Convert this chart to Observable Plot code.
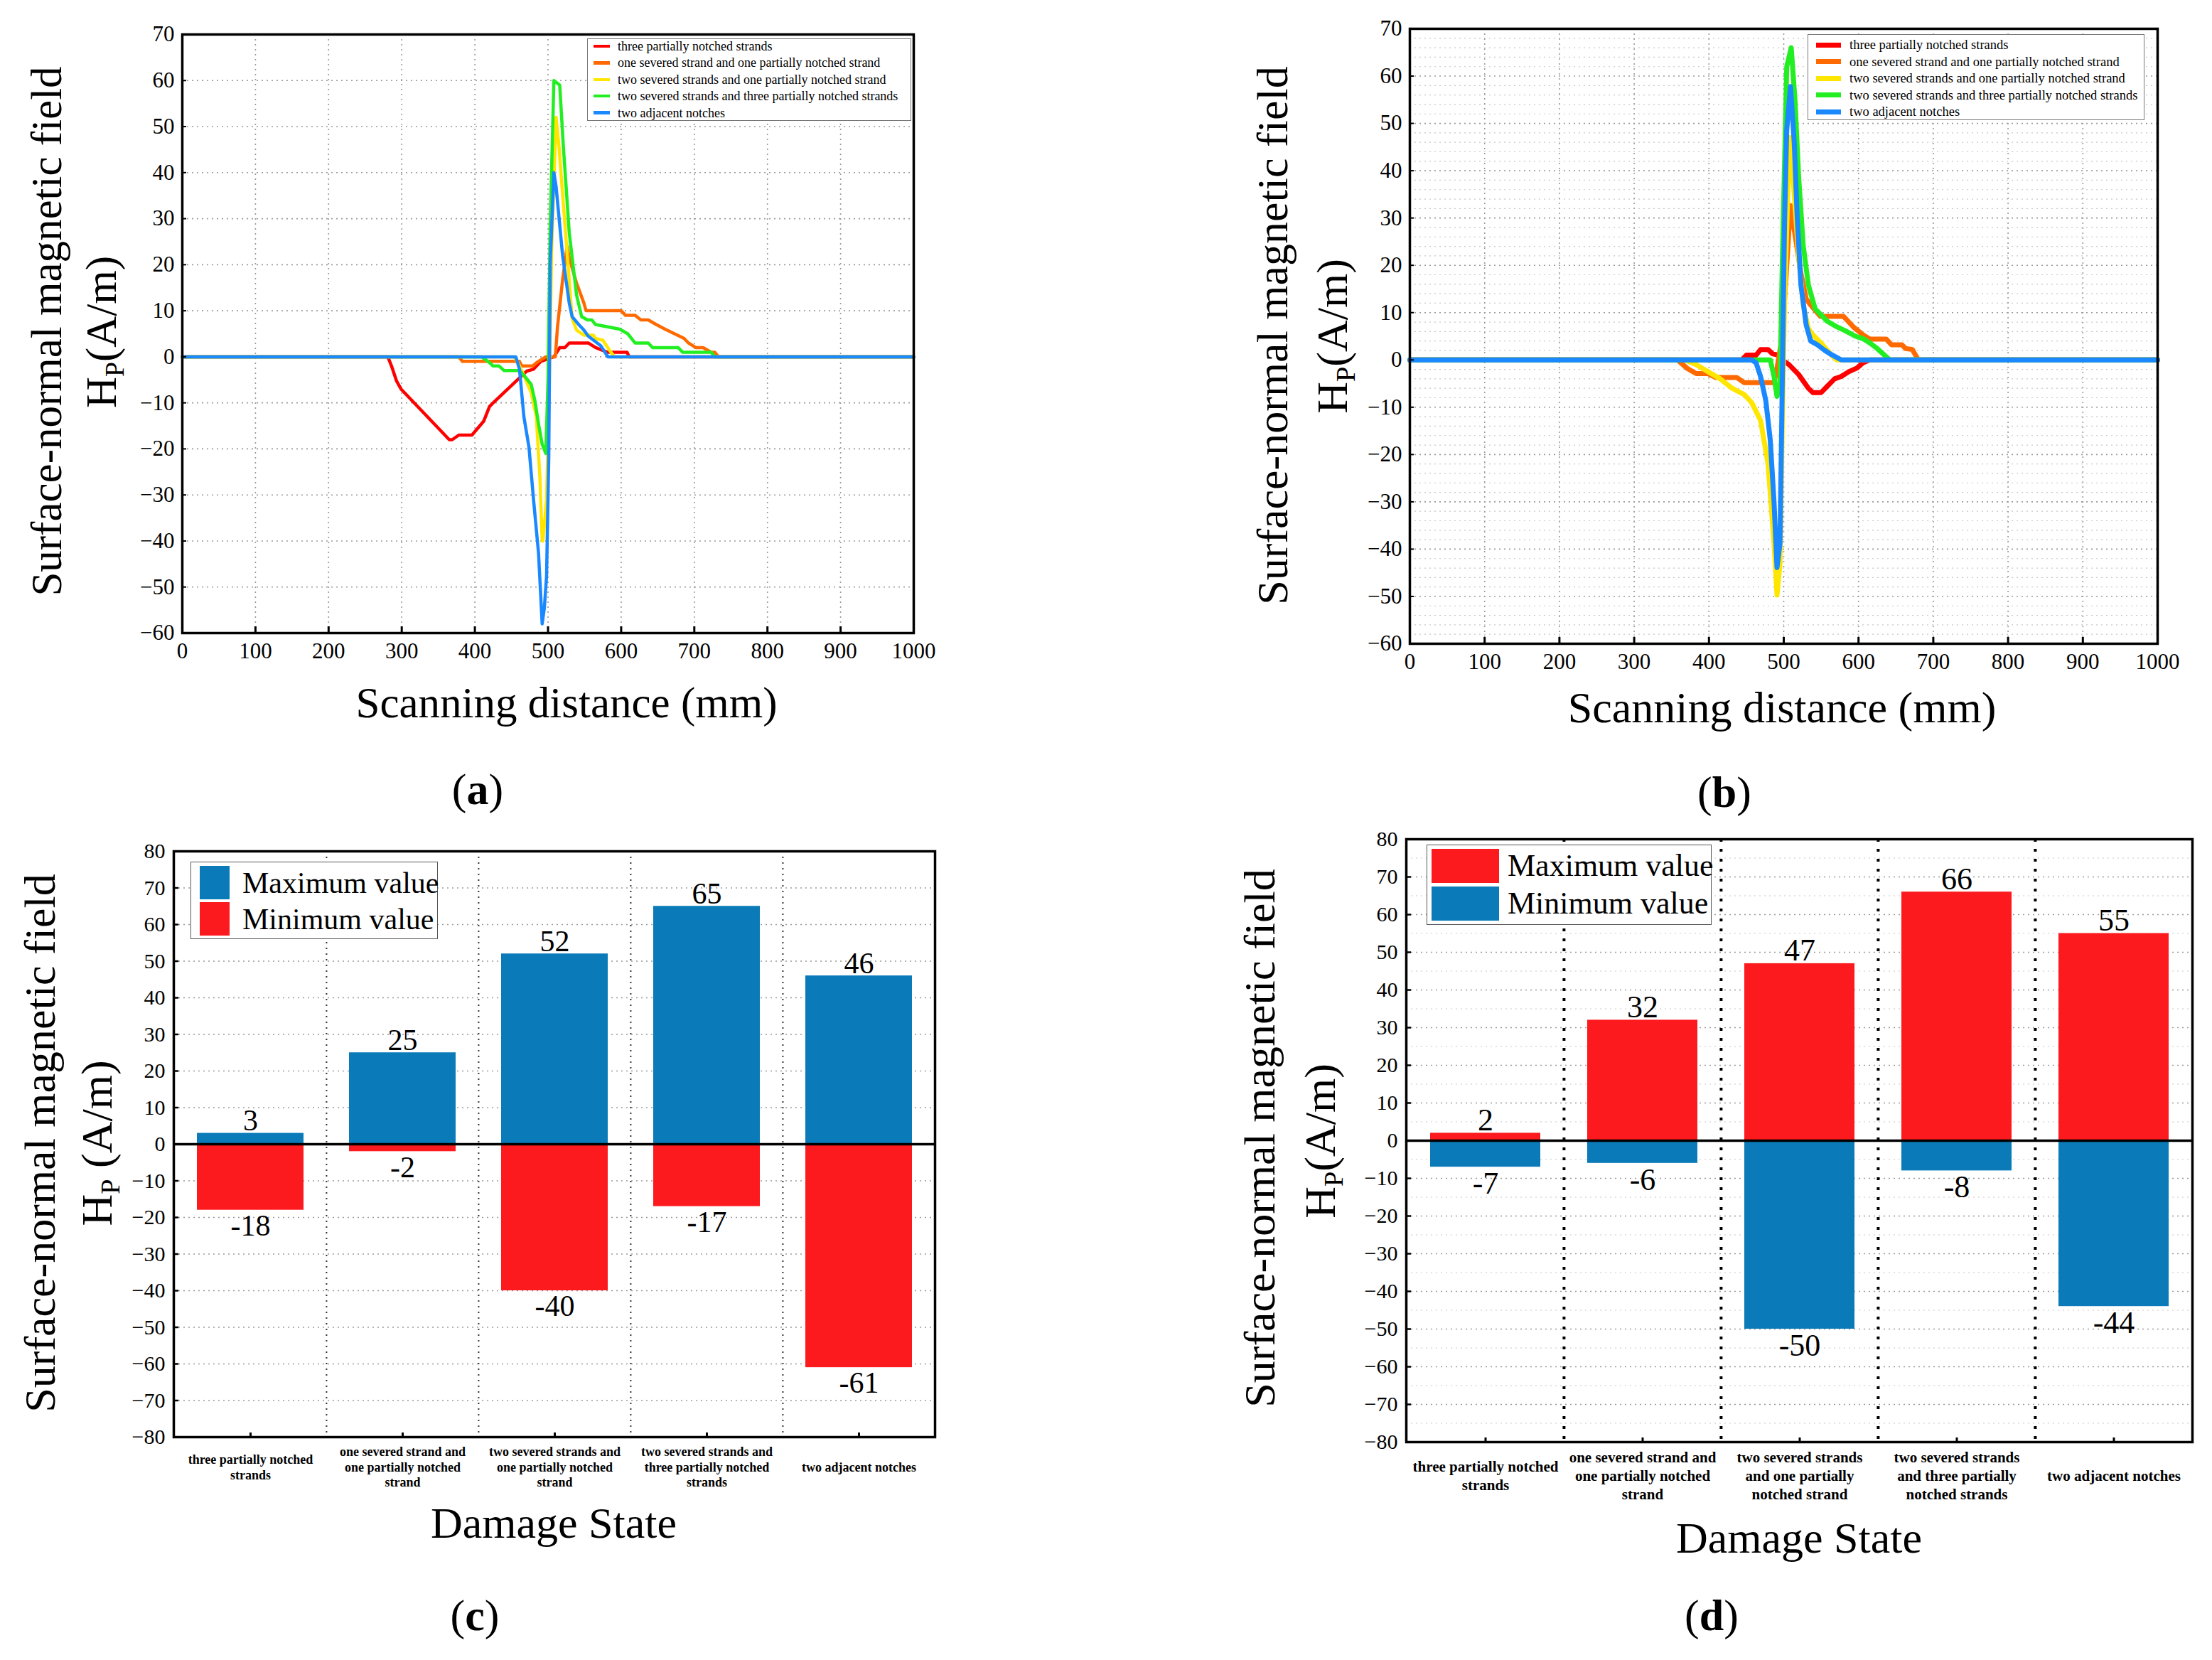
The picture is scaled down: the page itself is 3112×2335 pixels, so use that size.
<!DOCTYPE html>
<html>
<head>
<meta charset="utf-8">
<script src="https://cdn.jsdelivr.net/npm/d3@7"></script>
<script src="https://cdn.jsdelivr.net/npm/@observablehq/plot@0.6"></script>
<style>
  html, body { margin: 0; padding: 0; background: #fff; }
  #page { position: relative; width: 3112px; height: 2335px; overflow: hidden; background: #fff;
          font-family: "Liberation Serif", "Times New Roman", serif; color: #000; }
  .t { position: absolute; white-space: nowrap; line-height: 1; transform: translate(-50%, -50%); }
  .rot { transform: translate(-50%, -50%) rotate(-90deg); }
  .sub { font-size: 0.62em; position: relative; top: 0.28em; }
  .box { position: absolute; background: #fff; box-sizing: border-box; }
  .row { position: absolute; white-space: nowrap; line-height: 1; transform: translateY(-50%); }
  .sw { position: absolute; }
</style>
</head>
<body>
<div id="page"></div>
<script>
// ---------------- data ----------------
const seriesNames = [
  "three partially notched strands",
  "one severed strand and one partially notched strand",
  "two severed strands and one partially notched strand",
  "two severed strands and three partially notched strands",
  "two adjacent notches"
];
const lineColors = ["#ff0000", "#ff6a00", "#ffe600", "#22ee22", "#1a88ff"];

const xTicks = [0, 100, 200, 300, 400, 500, 600, 700, 800, 900, 1000];
const lineYTicks = [-60, -50, -40, -30, -20, -10, 0, 10, 20, 30, 40, 50, 60, 70];
const lineYMinor = [-58,-56,-54,-52,-48,-46,-44,-42,-38,-36,-34,-32,-28,-26,-24,-22,-18,-16,-14,-12,-8,-6,-4,-2,2,4,6,8,12,14,16,18,22,24,26,28,32,34,36,38,42,44,46,48,52,54,56,58,62,64,66,68];

// panel (a): [scanning distance mm, Hp A/m]
const aRed = [[0,0],[281,0],[286,-2],[293,-5.3],[299,-7],[365,-18],[369,-18],[378,-17],[396,-17],[412,-14],[420,-10.8],[425,-10],[471,-3.1],[480,-2.7],[490,-1],[497,-0.6],[508,0],[516,2],[523,2],[529,3],[555,3],[565,2],[581,1],[608,1],[611,0],[1000,0]];
const aOrange = [[0,0],[378,0],[383,-1],[461,-1],[464,-2],[479,-2],[485,-1.2],[497,0],[510,0],[513,6.6],[520,16.8],[526,24],[529,21.5],[539,16],[549,11.7],[552,10],[600,10],[606,9],[619,9],[627,8],[637,8],[648,7],[660,6],[673,5],[686,4],[692,3],[702,2],[712,2],[723,1],[728,1],[733,0],[1000,0]];
const aYellow = [[0,0],[453,0],[458,-1],[467,-4],[477,-7.8],[484,-13],[489,-26.5],[492,-40],[493,-40],[498,-31],[502,-5],[505,23.6],[511,52],[515,45.6],[526,22.7],[533,8.3],[539,5.8],[549,4.7],[562,4.7],[565,4],[575,3.6],[580,2.4],[586,1],[591,0],[1000,0]];
const aGreen = [[0,0],[409,0],[418,-1],[425,-2],[433,-2],[440,-3],[461,-3],[467,-4],[477,-6],[482,-9.5],[487,-14.6],[492,-19],[497,-21],[500,-5],[503,28.7],[508,60],[516,59],[521,45.6],[529,27],[539,13.4],[546,8.7],[554,8],[560,8],[565,7],[598,6],[609,5],[619,3],[637,3],[643,2],[678,2],[684,1],[723,1],[728,0],[1000,0]];
const aBlue = [[0,0],[456,0],[461,-2.7],[467,-13],[474,-19.7],[480,-30.7],[487,-42.6],[492,-58],[495,-54.5],[498,-47.7],[501,-22],[503,20],[508,40],[511,37],[520,21.9],[529,11.7],[533,8.7],[542,7],[549,5.8],[555,4.5],[572,2.4],[582,0],[1000,0]];

// panel (b)
const bRed = [[0,0],[444,0],[450,1],[463,1],[469,2.2],[479,2.2],[485,1.3],[493,1],[498,0],[507,-1],[520,-3.1],[533,-6],[539,-6.9],[550,-6.9],[558,-5.6],[568,-4],[577,-3.5],[587,-2.5],[598,-1.7],[606,-0.6],[615,0],[1000,0]];
const bOrange = [[0,0],[358,0],[371,-1.8],[383,-2.9],[399,-2.9],[409,-3.7],[437,-3.7],[447,-4.8],[487,-4.8],[491,-1.8],[498,4.9],[504,20],[509,32.6],[514,27.6],[523,18.3],[530,12.9],[536,11.6],[549,9.2],[580,9.2],[593,7],[606,5.3],[615,4.4],[637,4.4],[644,3.2],[658,3.2],[663,2.4],[672,2.2],[680,0],[1000,0]];
const bYellow = [[0,0],[368,0],[383,-1],[399,-2.5],[415,-4],[431,-6],[447,-7.3],[457,-9],[469,-12.8],[479,-22],[487,-38.8],[491,-49.7],[495,-43],[498,-13.6],[501,11.6],[506,38.5],[508,47],[514,35],[520,21.7],[526,11.6],[533,6.6],[539,5.3],[552,3.2],[564,1],[571,0],[1000,0]];
const bGreen = [[0,0],[482,0],[487,-3.5],[491,-7.7],[495,-5.2],[498,20],[504,62],[510,66],[515,55],[520,38.5],[526,24.2],[533,15.8],[542,10.8],[558,8.2],[571,7],[583,6.1],[596,5],[606,4.5],[615,3.6],[625,2.4],[634,1.1],[642,0],[1000,0]];
const bBlue = [[0,0],[457,0],[463,-0.6],[469,-3.5],[476,-8.6],[482,-17],[487,-30],[491,-43.9],[495,-38.8],[498,-5.2],[501,28.4],[504,48.6],[509,57.8],[514,46],[518,30],[523,15.8],[530,7.4],[536,4],[545,3.2],[555,2],[564,1.1],[577,0],[1000,0]];

// panels (c) and (d)
const damageStates = [
  "three partially notched strands",
  "one severed strand and one partially notched strand",
  "two severed strands and one partially notched strand",
  "two severed strands and three partially notched strands",
  "two adjacent notches"
];
const cLabels = [
  "three partially notched\nstrands",
  "one severed strand and\none partially notched\nstrand",
  "two severed strands and\none partially notched\nstrand",
  "two severed strands and\nthree partially notched\nstrands",
  "two adjacent notches"
];
const dLabels = [
  "three partially notched\nstrands",
  "one severed strand and\none partially notched\nstrand",
  "two severed strands\nand one partially\nnotched strand",
  "two severed strands\nand three partially\nnotched strands",
  "two adjacent notches"
];
const cMax = [3, 25, 52, 65, 46];
const cMin = [-18, -2, -40, -17, -61];
const dMax = [2, 32, 47, 66, 55];
const dMin = [-7, -6, -50, -8, -44];
const barYTicks = [-80, -70, -60, -50, -40, -30, -20, -10, 0, 10, 20, 30, 40, 50, 60, 70, 80];
const barYMinor = [-75, -65, -55, -45, -35, -25, -15, -5, 5, 15, 25, 35, 45, 55, 65, 75];

const barBlue = "#0a7bb8";
const barRed = "#fd1a1e";

// ---------------- helpers ----------------
const page = document.getElementById("page");
const fmt = d => d < 0 ? "\u2212" + (-d) : String(d);
const baseStyle = {fontFamily: "'Liberation Serif', 'Times New Roman', serif", fontSize: "30px", color: "#000",
  background: "transparent", overflow: "visible", maxWidth: "none"};

function place(el, left, top) {
  const d = document.createElement("div");
  d.style.cssText = `position:absolute;left:${left}px;top:${top}px;`;
  d.append(el);
  page.append(d);
}
function txt(html, x, y, size, cls = "") {
  const d = document.createElement("div");
  d.className = "t " + cls;
  d.style.left = x + "px"; d.style.top = y + "px"; d.style.fontSize = size + "px";
  d.innerHTML = html;
  page.append(d);
  return d;
}
const lineTable = list => list.flatMap((pts, i) => pts.map(([x, y]) => ({x, y, s: seriesNames[i]})));

const gridMajor = {stroke: "#9a9a9a", strokeOpacity: 1, strokeDasharray: "2,5", strokeWidth: 1.6};
const gridMinor = {stroke: "#c8c8c8", strokeOpacity: 1, strokeDasharray: "2,5", strokeWidth: 1.2};

function linePlot({data, width, height, ml, mr, mt, mb, sw, minor}) {
  return Plot.plot({
    width, height, marginLeft: ml, marginRight: mr, marginTop: mt, marginBottom: mb,
    style: baseStyle,
    x: {domain: [0, 1000]},
    y: {domain: [-60, 70]},
    color: {domain: seriesNames, range: lineColors},
    marks: [
      minor ? Plot.gridY(lineYMinor, gridMinor) : null,
      Plot.gridX(xTicks, gridMajor),
      Plot.gridY(lineYTicks, gridMajor),
      Plot.line(data, {x: "x", y: "y", z: "s", stroke: "s", strokeWidth: sw, strokeLinejoin: "round", strokeLinecap: "round"}),
      Plot.frame({stroke: "#000", strokeWidth: 3.5}),
      Plot.axisX(xTicks, {tickSize: -9, tickPadding: 22, fontSize: 31, strokeWidth: 3, tickFormat: fmt, label: null}),
      Plot.axisY(lineYTicks, {tickSize: -6, tickPadding: 17, fontSize: 31, strokeWidth: 2, tickFormat: fmt, label: null})
    ]
  });
}

function barPlot({max, min, labels, maxColor, minColor, width, height, ml, mr, mt, mb, minor, sepStyle, catSize, catLH, catDy, valSize}) {
  const table = damageStates.map((c, i) => ({cat: c, max: max[i], min: min[i], label: labels[i]}));
  const fw = width - ml - mr;
  return Plot.plot({
    width, height, marginLeft: ml, marginRight: mr, marginTop: mt, marginBottom: mb,
    style: baseStyle,
    x: {type: "band", domain: damageStates, paddingInner: 0.3, paddingOuter: 0.15},
    y: {domain: [-80, 80]},
    marks: [
      minor ? Plot.gridY(barYMinor, gridMinor) : null,
      Plot.gridY(barYTicks, gridMajor),
      Plot.ruleX(damageStates.slice(1), {x: d => d, dx: -fw / 10, ...sepStyle}),
      Plot.barY(table, {x: "cat", y: "max", fill: maxColor}),
      Plot.barY(table, {x: "cat", y: "min", fill: minColor}),
      Plot.ruleY([0], {stroke: "#000", strokeWidth: 3.5}),
      Plot.text(table, {x: "cat", y: "max", text: d => String(d.max), lineAnchor: "bottom", dy: -4, fontSize: valSize}),
      Plot.text(table, {x: "cat", y: "min", text: d => String(d.min), lineAnchor: "top", dy: 6, fontSize: valSize}),
      Plot.frame({stroke: "#000", strokeWidth: 3.5}),
      Plot.text(table, {x: "cat", text: "label", frameAnchor: "bottom", dy: catDy, lineAnchor: "middle",
        fontSize: catSize, fontWeight: "bold", lineHeight: catLH}),
      Plot.axisX({tickSize: -6, strokeWidth: 3, tickFormat: () => "", label: null}),
      Plot.axisY(barYTicks, {tickSize: -7, tickPadding: 19, fontSize: 30, strokeWidth: 2.5, tickFormat: fmt, label: null})
    ]
  });
}

// ---------------- panel (a) ----------------
place(linePlot({data: lineTable([aRed, aOrange, aYellow, aGreen, aBlue]), width: 1320, height: 960,
  ml: 256, mr: 35, mt: 48, mb: 70, sw: 4.5, minor: false}), 0, 0);

// ---------------- panel (b) ----------------
place(linePlot({data: lineTable([bRed, bOrange, bYellow, bGreen, bBlue]), width: 1412, height: 960,
  ml: 283, mr: 77, mt: 40, mb: 55, sw: 7, minor: true}), 1700, 0);

// ---------------- panel (c) ----------------
place(barPlot({max: cMax, min: cMin, labels: cLabels, maxColor: barBlue, minColor: barRed,
  width: 1400, height: 950, ml: 244, mr: 85, mt: 47, mb: 79, minor: false,
  sepStyle: {stroke: "#333", strokeWidth: 2, strokeDasharray: "2,6"},
  catSize: 18, catLH: 1.22, catDy: 41, valSize: 42}), 0, 1150);

// ---------------- panel (d) ----------------
place(barPlot({max: dMax, min: dMin, labels: dLabels, maxColor: barRed, minColor: barBlue,
  width: 1412, height: 950, ml: 278, mr: 28, mt: 30, mb: 72, minor: true,
  sepStyle: {stroke: "#000", strokeWidth: 4, strokeDasharray: "4,10"},
  catSize: 21, catLH: 1.25, catDy: 46, valSize: 44}), 1700, 1150);

// ---------------- titles ----------------
const yl1 = "Surface-normal magnetic field";
txt(yl1, 65, 466, 61, "rot");
txt('H<span class="sub">P</span>(A/m)', 142, 467, 61, "rot");
txt(yl1, 1790, 472, 62, "rot");
txt('H<span class="sub">P</span>(A/m)', 1874, 473, 62, "rot");
txt(yl1, 56, 1608, 62, "rot");
txt('H<span class="sub">P</span> (A/m)', 136, 1608, 62, "rot");
txt(yl1, 1772, 1601, 62, "rot");
txt('H<span class="sub">P</span>(A/m)', 1857, 1605, 62, "rot");

txt("Scanning distance (mm)", 797, 988, 61);
txt("Scanning distance (mm)", 2507, 995, 62);
txt("Damage State", 779, 2142, 62);
txt("Damage State", 2531, 2163, 62);

txt("(<b>a</b>)", 672, 1110, 62);
txt("(<b>b</b>)", 2426, 1114, 62);
txt("(<b>c</b>)", 668, 2272, 62);
txt("(<b>d</b>)", 2408, 2272, 62);

// ---------------- legends ----------------
function lineLegend(left, top, w, h, rowY0, rowStep, swX, swW, swH, textX, fs) {
  const box = document.createElement("div");
  box.className = "box";
  box.style.cssText += `left:${left}px;top:${top}px;width:${w}px;height:${h}px;border:1.5px solid #777;`;
  seriesNames.forEach((name, i) => {
    const y = rowY0 + rowStep * i;
    const sw = document.createElement("div");
    sw.className = "sw";
    sw.style.cssText = `left:${swX}px;top:${y - swH / 2}px;width:${swW}px;height:${swH}px;background:${lineColors[i]};`;
    const t = document.createElement("div");
    t.className = "row";
    t.style.cssText += `left:${textX}px;top:${y}px;font-size:${fs}px;`;
    t.textContent = name;
    box.append(sw, t);
  });
  page.append(box);
}
lineLegend(826, 54, 456, 116, 10, 23.4, 8, 23, 4.5, 42, 18);
lineLegend(2543, 48, 474, 121, 14, 23.5, 11, 35, 7, 58, 18.5);

const barLegendNames = ["Maximum value", "Minimum value"];
function barLegend(left, top, w, h, colors, swX, swW, swH, rowTops, textX, fs) {
  const box = document.createElement("div");
  box.className = "box";
  box.style.cssText += `left:${left}px;top:${top}px;width:${w}px;height:${h}px;border:1.5px solid #555;`;
  barLegendNames.forEach((name, i) => {
    const sw = document.createElement("div");
    sw.className = "sw";
    sw.style.cssText = `left:${swX}px;top:${rowTops[i]}px;width:${swW}px;height:${swH}px;background:${colors[i]};`;
    const t = document.createElement("div");
    t.className = "row";
    t.style.cssText += `left:${textX}px;top:${rowTops[i] + swH / 2}px;font-size:${fs}px;`;
    t.textContent = name;
    box.append(sw, t);
  });
  page.append(box);
}
barLegend(268, 1212, 348, 109, [barBlue, barRed], 12, 42, 47, [5, 56], 72, 42);
barLegend(2007, 1188, 401, 113, [barRed, barBlue], 6, 95, 48, [5, 58], 113, 44);
</script>
</body>
</html>
